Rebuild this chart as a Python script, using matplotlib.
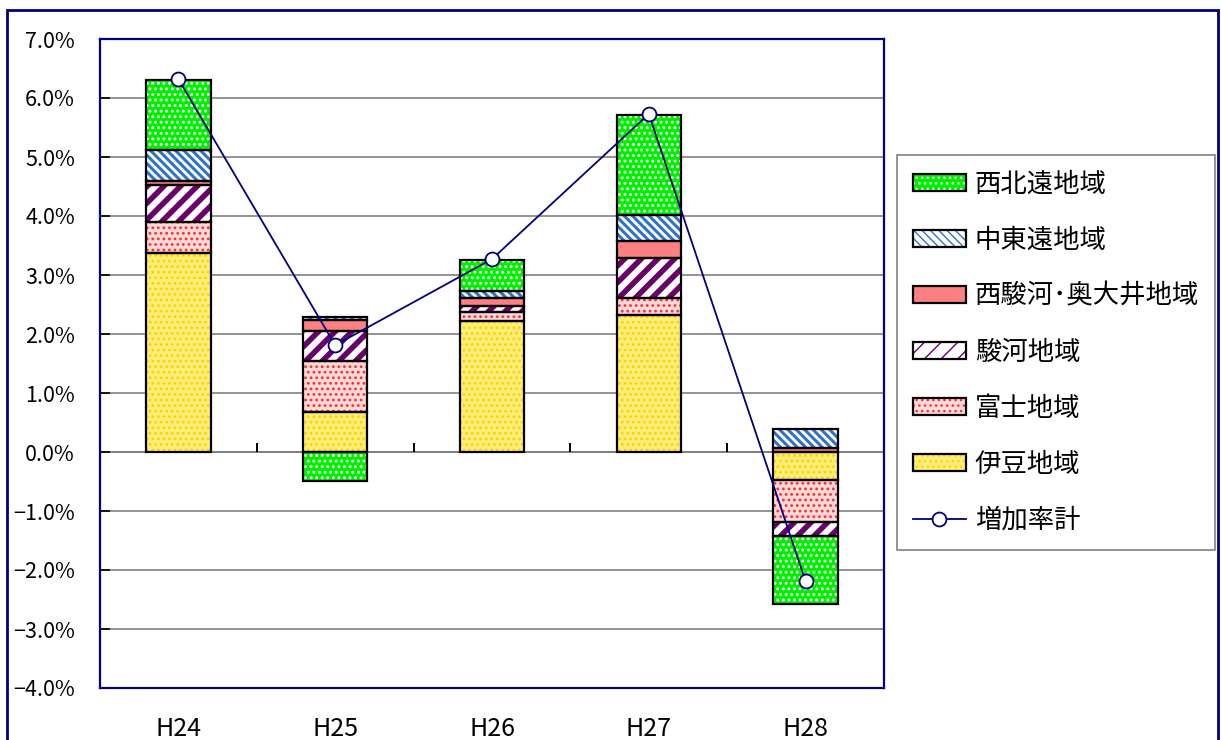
import numpy as np
import matplotlib.pyplot as plt
from matplotlib.patches import Rectangle
from matplotlib.ticker import MultipleLocator, FuncFormatter

plt.rcParams['font.family'] = ['Noto Sans CJK JP', 'DejaVu Sans']

# データ（増加率 %）
years = ['H24', 'H25', 'H26', 'H27', 'H28']
regions = ['伊豆地域', '富士地域', '駿河地域', '西駿河･奥大井地域', '中東遠地域', '西北遠地域']

izu = [3.38, 0.67, 2.22, 2.33, -0.48]
fuji = [0.51, 0.88, 0.16, 0.28, -0.70]
suruga = [0.64, 0.50, 0.09, 0.68, -0.24]
nishisuruga = [0.07, 0.18, 0.14, 0.29, 0.06]
chutoen = [0.52, 0.06, 0.12, 0.43, 0.33]
seihokuen = [1.19, -0.49, 0.53, 1.71, -1.15]
total = [6.32, 1.81, 3.27, 5.73, -2.19]

series = [izu, fuji, suruga, nishisuruga, chutoen, seihokuen]
# (塗り色, ハッチ色, ハッチ, ハッチ線幅)
styles = [
    ('#FFEE78', '#FFD000', '...', 1.2),
    ('#FFDADA', '#FF2A2A', '...', 1.2),
    ('white', '#6A006A', '//', 4.0),
    ('#FF8080', '#FF8080', None, 1.0),
    ('white', '#2F73C8', '\\\\\\\\', 2.2),
    ('#00F000', 'white', '...', 1.3),
]

navy = '#000080'

fig = plt.figure(figsize=(12.21, 7.40), dpi=100)
ax = fig.add_axes([100/1221, 1 - 688/740, 784/1221, 649/740])

x = np.arange(len(years))
width = 0.41
pos = np.zeros(len(years))
neg = np.zeros(len(years))
handles = []
for vals, (face, hc, hatch, hlw) in zip(series, styles):
    v = np.array(vals)
    bottom = np.where(v >= 0, pos, neg)
    with plt.rc_context({'hatch.linewidth': hlw}):
        b1 = ax.bar(x, v, width, bottom=bottom, color=face, edgecolor=hc,
                    hatch=hatch, linewidth=0, zorder=3)
    b2 = ax.bar(x, v, width, bottom=bottom, fill=False, edgecolor='black',
                linewidth=1.6, zorder=4)
    pos += np.where(v >= 0, v, 0)
    neg += np.where(v < 0, v, 0)
    handles.append((b1, b2))

line, = ax.plot(x, total, '-o', color=navy, linewidth=1.3, markersize=10,
                markerfacecolor='white', markeredgecolor=navy,
                markeredgewidth=1.3, zorder=6)

# 軸
ax.set_xlim(-0.5, len(years) - 0.5)
ax.set_ylim(-4, 7)
ax.yaxis.set_major_locator(MultipleLocator(1))
ax.yaxis.set_major_formatter(FuncFormatter(
    lambda v, p: ('\u2212' if v < 0 else '') + f'{abs(v):.1f}%'))
ax.grid(axis='y', color='#808080', linewidth=1.2, zorder=0)
ax.axhline(0, color='#808080', linewidth=1.4, zorder=1)
ax.vlines(x[:-1] + 0.5, 0, 0.16, color='black', linewidth=1.4, zorder=2)
ax.set_xticks(x)
ax.set_xticklabels(years)
ax.tick_params(axis='x', length=0, pad=20, labelsize=18)
ax.tick_params(axis='y', direction='in', length=7, width=1.2, color='black',
               pad=18, labelsize=15.5)
for s in ax.spines.values():
    s.set_color(navy)
    s.set_linewidth(1.6)

leg = ax.legend(handles[::-1] + [line], regions[::-1] + ['増加率計'],
                loc='upper left', bbox_to_anchor=(897/1221, 1 - 155/740),
                bbox_transform=fig.transFigure, fontsize=19,
                fancybox=False, framealpha=1, edgecolor='#808080',
                handlelength=2.0, handleheight=0.6, handletextpad=0.35,
                labelspacing=1.1, borderpad=0.6, borderaxespad=0)
leg.get_frame().set_linewidth(1.2)

# 外枠
fig.patches.append(Rectangle((7/1221, -0.2), 1211/1221, 1.2 - 10/740,
                             transform=fig.transFigure, fill=False,
                             edgecolor=navy, linewidth=2))

fig.savefig('out.png', dpi=100)
